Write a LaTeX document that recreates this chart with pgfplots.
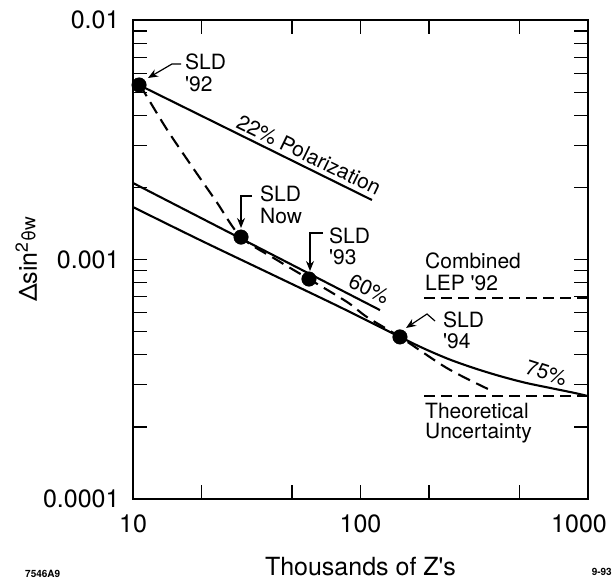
\documentclass[border=0pt]{standalone}
\usepackage{fontspec}
\setmainfont{TeX Gyre Heros}
\usepackage{pgfplots}
\pgfplotsset{compat=1.18}
\usetikzlibrary{arrows.meta}
\newcommand\ann{\fontsize{21}{25}\selectfont}
\newcommand\q{\textquotesingle}

\begin{document}
\begin{tikzpicture}[x=1pt,y=1pt]
\begin{axis}[
    at={(0,0)}, anchor=south west,
    scale only axis, width=455pt, height=479pt,
    xmode=log, ymode=log,
    xmin=10, xmax=1000, ymin=0.0001, ymax=0.01,
    xtick={10,100}, xticklabels={10,100},
    extra x ticks={1000}, extra x tick labels={1000},
    extra x tick style={xticklabel style={xshift=-9pt}},
    minor xtick={20,50,200,500},
    ytick={0.0001,0.001,0.01}, yticklabels={0.0001,0.001,0.01},
    minor ytick={0.0002,0.0003,0.0004,0.0005,0.0006,0.0007,0.0008,0.0009,
                 0.002,0.003,0.004,0.005,0.006,0.007,0.008,0.009},
    major tick length=14pt, minor tick length=14pt,
    every tick/.append style={black, line width=1.2pt},
    axis line style={line width=1.9pt},
    /pgf/number format/assume math mode=true,
    tick label style={font=\fontsize{25}{30}\selectfont},
    xticklabel style={anchor=base, yshift=-33pt},
    yticklabel style={xshift=-10pt},
    xlabel={Thousands of Z\q s},
    ylabel={Δsin\textsuperscript{2}{\fontsize{19}{19}\selectfont\raisebox{1.5pt}{θw}}},
    label style={font=\fontsize{25}{30}\selectfont},
    xlabel style={at={(axis description cs:0.5,-0.1587)}, anchor=base},
    ylabel style={at={(axis description cs:-0.211,0.5)}, anchor=base},
    clip=false
]

% 22% polarization
\addplot[black, line width=2.1pt] coordinates {(10.63,0.005354) (112.3,0.001772)};

% 60%
\addplot[black, line width=2.1pt] coordinates {(10,0.002087) (121.8,0.000615)};

% 75%
\addplot[black, line width=2.1pt, smooth] coordinates {
    (10,0.001656) (19.70,0.001206) (40.01,0.000874) (81.25,0.000633)
    (149.1,0.000475) (192.1,0.000423) (247.4,0.000382) (318.6,0.000351)
    (410.5,0.000326) (528.7,0.000306) (680.8,0.000291) (876.9,0.000277)
    (1000,0.000269)
};

% SLD path (dashed)
\addplot[black, line width=2.1pt, dash pattern=on 13pt off 7pt, smooth] coordinates {
    (10.73,0.005354) (13.97,0.003540) (17.98,0.002481) (23.16,0.001755)
    (29.84,0.001241) (42.95,0.000995) (59.37,0.000829) (87.25,0.000665)
    (106.8,0.000575) (149.1,0.000475) (240.0,0.000352) (363.4,0.000288)
};

% Combined LEP '92 and theoretical uncertainty
\addplot[black, line width=1.9pt, dash pattern=on 11pt off 6pt] coordinates {(190.2,0.000691) (1000,0.000691)};
\addplot[black, line width=1.9pt, dash pattern=on 11pt off 6pt] coordinates {(190.2,0.000269) (1000,0.000269)};

% SLD points
\addplot[only marks, mark=*, mark size=7.3pt, black] coordinates {
    (10.63,0.005354) (29.84,0.001241) (59.37,0.000829) (149.1,0.000475)
};

\end{axis}

% annotations, in pixel coordinates of the figure
\begin{scope}[shift={(-133,499)}, yscale=-1]
  \tikzset{arr/.style={line width=1.2pt, -{Stealth[length=10pt,width=8pt]}}}
  \draw[arr] (181,64) -- (172,64) -- (148,78);
  \node[anchor=base west, inner sep=0, font=\ann] at (185,70) {SLD};
  \node[anchor=base west, inner sep=0, font=\ann] at (185,92) {\q 92};

  \node[anchor=base west, inner sep=0, font=\ann, rotate=-26] at (235,127) {22\% Polarization};

  \draw[arr] (252,196) -- (241,196) -- (241,228);
  \node[anchor=base west, inner sep=0, font=\ann] at (260,202) {SLD};
  \node[anchor=base west, inner sep=0, font=\ann] at (260,223) {Now};

  \draw[arr] (323,233) -- (310,233) -- (310,271);
  \node[anchor=base west, inner sep=0, font=\ann] at (329,244) {SLD};
  \node[anchor=base west, inner sep=0, font=\ann] at (329,264) {\q 93};

  \node[anchor=base west, inner sep=0, font=\ann, rotate=-26] at (347,286) {60\%};

  \node[anchor=base west, inner sep=0, font=\ann] at (425,268) {Combined};
  \node[anchor=base west, inner sep=0, font=\ann] at (425,290) {LEP \q 92};

  \draw[arr] (435,321) -- (427,314) -- (406,328);
  \node[anchor=base west, inner sep=0, font=\ann] at (443,327) {SLD};
  \node[anchor=base west, inner sep=0, font=\ann] at (443,348) {\q 94};

  \node[anchor=base west, inner sep=0, font=\ann, rotate=-18] at (524,373) {75\%};

  \node[anchor=base west, inner sep=0, font=\ann] at (425,418) {Theoretical};
  \node[anchor=base west, inner sep=0, font=\ann] at (425,438) {Uncertainty};

  \node[anchor=base west, inner sep=0, font=\fontsize{10}{12}\selectfont\bfseries] at (25,577) {7546A9};
  \node[anchor=base east, inner sep=0, font=\fontsize{10}{12}\selectfont\bfseries] at (612,575) {9-93};
\end{scope}

\pgfresetboundingbox
\path[use as bounding box] (-133,-80) rectangle (480,499);
\end{tikzpicture}
\end{document}
